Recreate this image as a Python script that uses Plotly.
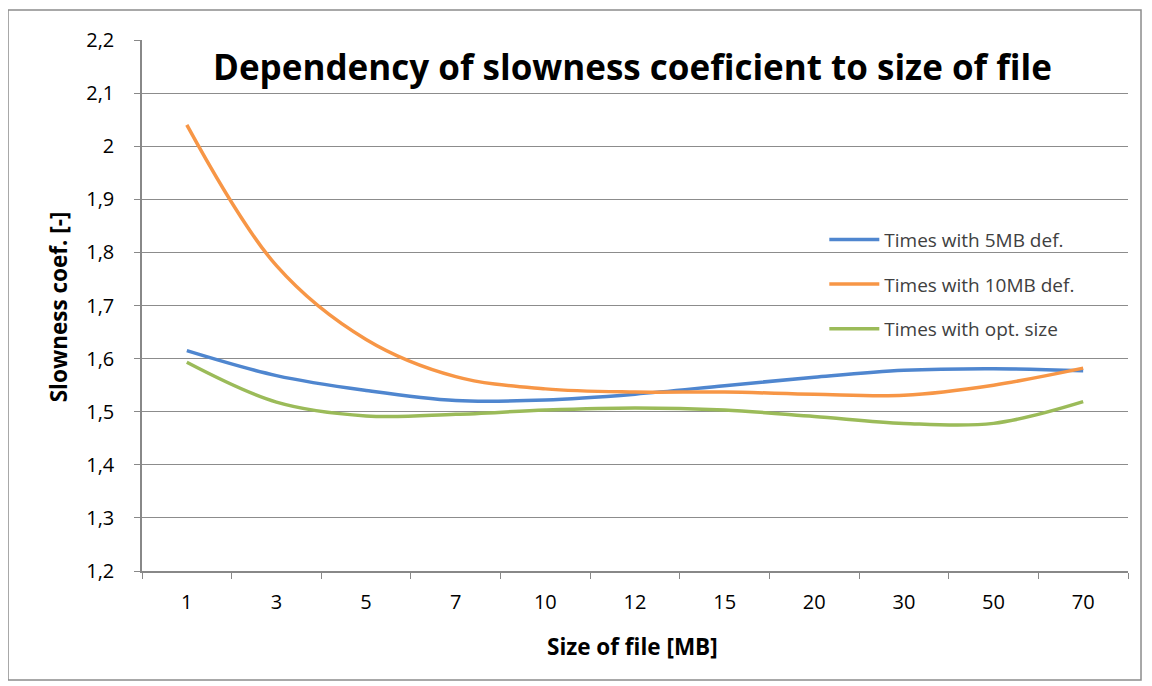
import plotly.graph_objects as go

categories = ["1", "3", "5", "7", "10", "12", "15", "20", "30", "50", "70"]
series_names = ["Times with 5MB def.", "Times with 10MB def.", "Times with opt. size"]
times_5mb = [1.615, 1.568, 1.540, 1.521, 1.522, 1.533, 1.549, 1.565, 1.578, 1.581, 1.577]
times_10mb = [2.040, 1.775, 1.636, 1.566, 1.543, 1.537, 1.537, 1.533, 1.531, 1.550, 1.582]
times_opt = [1.593, 1.518, 1.492, 1.495, 1.503, 1.507, 1.503, 1.491, 1.478, 1.478, 1.519]
colors = ["#4F86CF", "#F79646", "#9BBB59"]
y_ticks = [1.2, 1.3, 1.4, 1.5, 1.6, 1.7, 1.8, 1.9, 2.0, 2.1, 2.2]

fig = go.Figure()
for name, vals, col in zip(series_names, [times_5mb, times_10mb, times_opt], colors):
    fig.add_trace(go.Scatter(
        x=categories, y=vals, name=name, mode="lines", legendgroup=name,
        line=dict(color=col, width=3.5, shape="spline", smoothing=1.0),
    ))

font_family = "Open Sans, Liberation Sans, sans-serif"
fig.update_layout(
    width=1152, height=686,
    margin=dict(l=134, r=32, t=32, b=123),
    paper_bgcolor="white", plot_bgcolor="white",
    separators=", ",
    font=dict(family=font_family, color="#000000"),
    showlegend=True,
    legend=dict(
        x=0.692, y=0.66, xanchor="left", yanchor="top",
        bgcolor="rgba(0,0,0,0)", font=dict(size=19, color="#404040"),
        traceorder="grouped", tracegroupgap=17, itemwidth=50,
    ),
    annotations=[
        dict(
            text="<b>Dependency of slowness coeficient to size of file</b>",
            xref="paper", yref="paper", x=0.497, y=0.951, xanchor="center", yanchor="middle",
            showarrow=False, font=dict(size=35, family=font_family, color="#000000"),
        ),
        dict(
            text="<b>Size of file [MB]</b>", xref="paper", yref="paper",
            x=0.497, y=-0.143, xanchor="center", yanchor="middle", showarrow=False,
            font=dict(size=22.5, family=font_family, color="#000000"),
        ),
        dict(
            text="<b>Slowness coef. [-]</b>", xref="paper", yref="paper", textangle=-90,
            x=-0.085, y=0.497, xanchor="center", yanchor="middle", showarrow=False,
            font=dict(size=22.5, family=font_family, color="#000000"),
        ),
    ],
    shapes=[dict(
        type="rect", xref="paper", yref="paper",
        x0=-0.1359, x1=1.0132, y0=-0.2053, y1=1.0565,
        line=dict(color="#8C8C8C", width=1.5), fillcolor="rgba(0,0,0,0)", layer="below",
    )],
)
fig.update_xaxes(
    type="category", tickson="boundaries", ticks="outside", ticklen=6, tickcolor="#888888",
    showline=True, linecolor="#888888", linewidth=1.5, showgrid=False,
    tickfont=dict(size=20), range=[-0.5, 10.5], ticklabelstandoff=12,
)
fig.update_yaxes(
    range=[1.2, 2.2], tickvals=y_ticks, ticks="outside", ticklen=6, tickcolor="#888888",
    showline=True, linecolor="#888888", linewidth=1.5,
    showgrid=True, gridcolor="#8C8C8C", gridwidth=1.2,
    tickfont=dict(size=20), zeroline=False, ticklabelstandoff=16,
)
fig.write_html("out.html")
